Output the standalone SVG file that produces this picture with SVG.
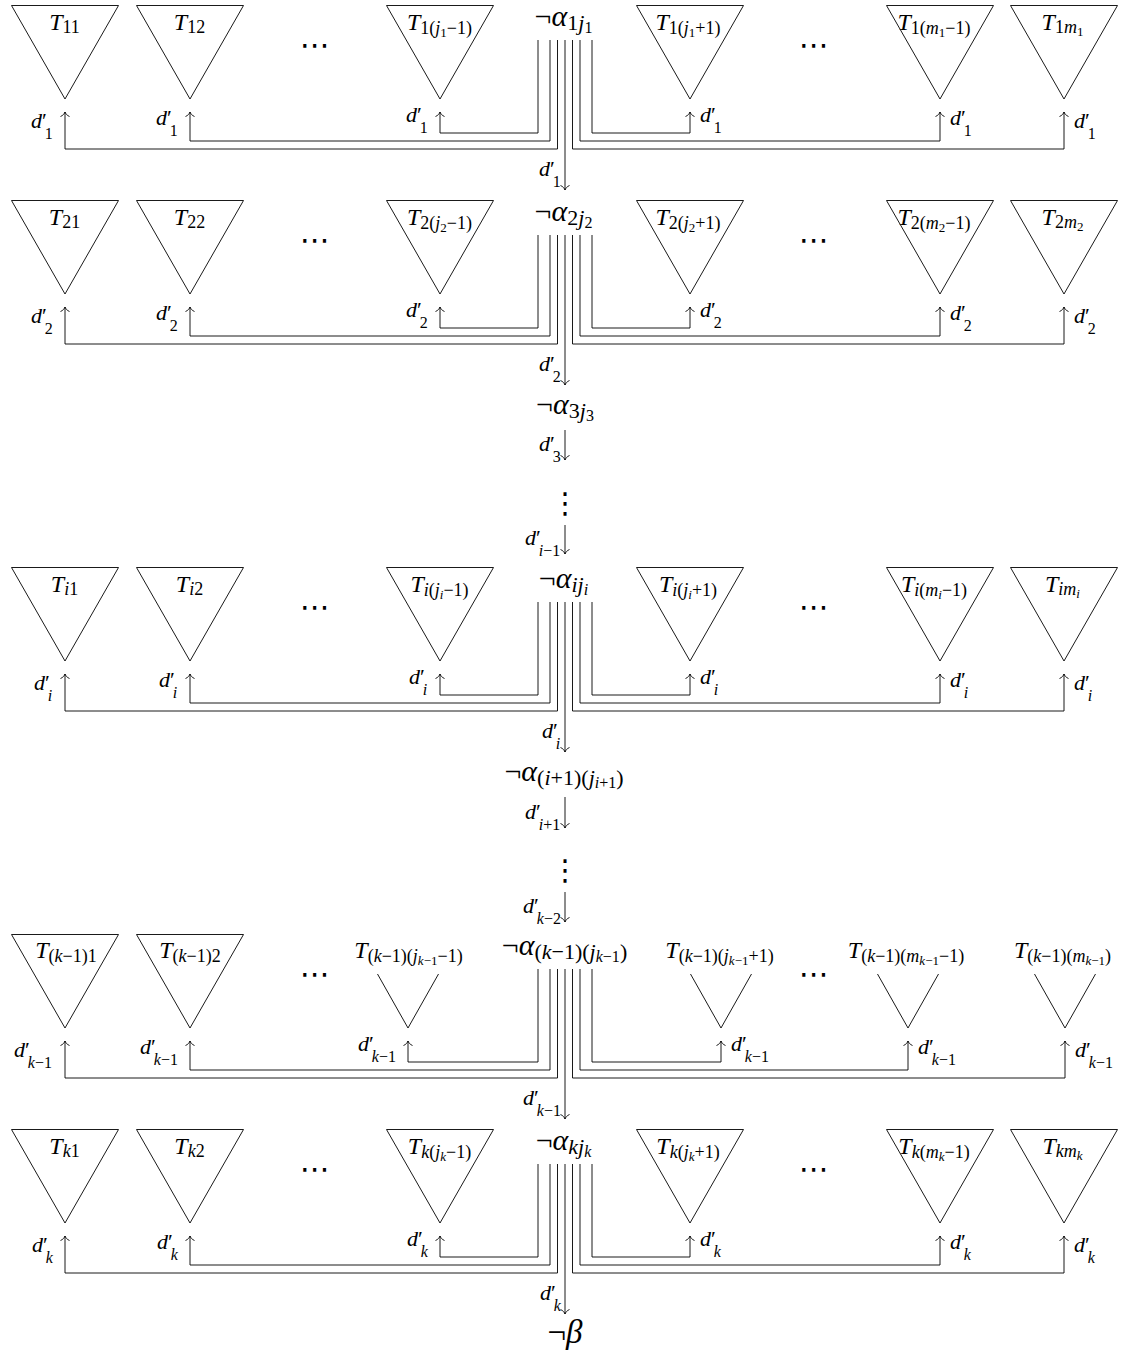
<svg xmlns="http://www.w3.org/2000/svg" width="1126" height="1353" viewBox="0 0 1126 1353">
<defs>
<style>
text{font-family:"Liberation Serif","DejaVu Serif",serif;fill:#000}
.T{font-size:24px}
.s{font-size:18px}
.ss{font-size:13px}
.a{font-size:30px}
.as{font-size:22px}
.ass{font-size:16px}
.b{font-size:33px}
.d{font-size:22px}
.ds{font-size:16px}
.p{letter-spacing:-2px}
.i{font-style:italic}
.dots{font-family:"DejaVu Sans",sans-serif;font-size:30px}
.vd{font-family:"DejaVu Sans",sans-serif;font-size:29px}
.tri{fill:none;stroke:#000;stroke-width:0.9}
.cn{fill:none;stroke:#000;stroke-width:0.9;marker-end:url(#ah)}
</style>
<marker id="ah" markerUnits="userSpaceOnUse" viewBox="-6 -6 12 12" markerWidth="12" markerHeight="12" refX="0" refY="0" orient="auto"><path d="M-4.5,-4.5 C-3.5,-2 -1.5,-0.5 0,0 C-1.5,0.5 -3.5,2 -4.5,4.5" fill="none" stroke="#000" stroke-width="0.9"/></marker>
<polygon id="tri" points="-53.5,0 53.5,0 0,93.5"/>
<polyline id="vee" points="-30.5,-54 0,0 30.5,-54"/>
</defs>
<rect width="1126" height="1353" fill="#fff"/>

<!-- Row 1 -->
<g id="row1">
<g id="T11"><use href="#tri" class="tri" x="65" y="5.5"/><text class="T" x="64.5" y="30" text-anchor="middle"><tspan class="i">T</tspan><tspan class="s" dy="3">11</tspan></text></g>
<g id="T12"><use href="#tri" class="tri" x="190" y="5.5"/><text class="T" x="189.5" y="30" text-anchor="middle"><tspan class="i">T</tspan><tspan class="s" dy="3">12</tspan></text></g>
<g id="T1jm"><use href="#tri" class="tri" x="440" y="5.5"/><text class="T" x="439.5" y="30" text-anchor="middle"><tspan class="i">T</tspan><tspan class="s" dy="4">1(<tspan class="i">j</tspan></tspan><tspan class="ss" dy="3">1</tspan><tspan class="s" dy="-3">−1)</tspan></text></g>
<g id="a1"><text class="a" x="563.5" y="26" text-anchor="middle">¬<tspan class="i">α</tspan><tspan class="as" dy="4">1<tspan class="i">j</tspan></tspan><tspan class="ass" dy="3">1</tspan></text></g>
<g id="T1jp"><use href="#tri" class="tri" x="690" y="5.5"/><text class="T" x="688" y="30" text-anchor="middle"><tspan class="i">T</tspan><tspan class="s" dy="4">1(<tspan class="i">j</tspan></tspan><tspan class="ss" dy="3">1</tspan><tspan class="s" dy="-3">+1)</tspan></text></g>
<g id="T1mm"><use href="#tri" class="tri" x="940" y="5.5"/><text class="T" x="934" y="30" text-anchor="middle"><tspan class="i">T</tspan><tspan class="s" dy="4">1(<tspan class="i">m</tspan></tspan><tspan class="ss" dy="3">1</tspan><tspan class="s" dy="-3">−1)</tspan></text></g>
<g id="T1m"><use href="#tri" class="tri" x="1064" y="5.5"/><text class="T" x="1062.5" y="30" text-anchor="middle"><tspan class="i">T</tspan><tspan class="s" dy="3">1<tspan class="i">m</tspan></tspan><tspan class="ss" dy="3">1</tspan></text></g>
<g id="dots1"><text class="dots" x="315" y="55" text-anchor="middle">⋯</text><text class="dots" x="814" y="55" text-anchor="middle">⋯</text></g>
</g>

<!-- Row 2 -->
<g id="row2">
<g id="T21"><use href="#tri" class="tri" x="65" y="200.5"/><text class="T" x="64.5" y="225" text-anchor="middle"><tspan class="i">T</tspan><tspan class="s" dy="3">21</tspan></text></g>
<g id="T22"><use href="#tri" class="tri" x="190" y="200.5"/><text class="T" x="189.5" y="225" text-anchor="middle"><tspan class="i">T</tspan><tspan class="s" dy="3">22</tspan></text></g>
<g id="T2jm"><use href="#tri" class="tri" x="440" y="200.5"/><text class="T" x="439.5" y="225" text-anchor="middle"><tspan class="i">T</tspan><tspan class="s" dy="4">2(<tspan class="i">j</tspan></tspan><tspan class="ss" dy="3">2</tspan><tspan class="s" dy="-3">−1)</tspan></text></g>
<g id="a2"><text class="a" x="563.5" y="221" text-anchor="middle">¬<tspan class="i">α</tspan><tspan class="as" dy="4">2<tspan class="i">j</tspan></tspan><tspan class="ass" dy="3">2</tspan></text></g>
<g id="T2jp"><use href="#tri" class="tri" x="690" y="200.5"/><text class="T" x="688" y="225" text-anchor="middle"><tspan class="i">T</tspan><tspan class="s" dy="4">2(<tspan class="i">j</tspan></tspan><tspan class="ss" dy="3">2</tspan><tspan class="s" dy="-3">+1)</tspan></text></g>
<g id="T2mm"><use href="#tri" class="tri" x="940" y="200.5"/><text class="T" x="934" y="225" text-anchor="middle"><tspan class="i">T</tspan><tspan class="s" dy="4">2(<tspan class="i">m</tspan></tspan><tspan class="ss" dy="3">2</tspan><tspan class="s" dy="-3">−1)</tspan></text></g>
<g id="T2m"><use href="#tri" class="tri" x="1064" y="200.5"/><text class="T" x="1062.5" y="225" text-anchor="middle"><tspan class="i">T</tspan><tspan class="s" dy="3">2<tspan class="i">m</tspan></tspan><tspan class="ss" dy="3">2</tspan></text></g>
<g id="dots2"><text class="dots" x="315" y="250" text-anchor="middle">⋯</text><text class="dots" x="814" y="250" text-anchor="middle">⋯</text></g>
</g>

<!-- Chain 2 -> i -->
<g id="a3"><text class="a" x="565" y="414" text-anchor="middle">¬<tspan class="i">α</tspan><tspan class="as" dy="4">3<tspan class="i">j</tspan></tspan><tspan class="ass" dy="3">3</tspan></text></g>
<g id="vdots1"><text class="vd" x="565" y="513" text-anchor="middle">⋮</text></g>

<!-- Row i -->
<g id="rowi">
<g id="Ti1"><use href="#tri" class="tri" x="65" y="567.5"/><text class="T" x="64.5" y="592" text-anchor="middle"><tspan class="i">T</tspan><tspan class="s" dy="3"><tspan class="i">i</tspan>1</tspan></text></g>
<g id="Ti2"><use href="#tri" class="tri" x="190" y="567.5"/><text class="T" x="189.5" y="592" text-anchor="middle"><tspan class="i">T</tspan><tspan class="s" dy="3"><tspan class="i">i</tspan>2</tspan></text></g>
<g id="Tijm"><use href="#tri" class="tri" x="440" y="567.5"/><text class="T" x="439.5" y="592" text-anchor="middle"><tspan class="i">T</tspan><tspan class="s" dy="4"><tspan class="i">i</tspan>(<tspan class="i">j</tspan></tspan><tspan class="ss i" dy="3">i</tspan><tspan class="s" dy="-3">−1)</tspan></text></g>
<g id="ai"><text class="a" x="563.5" y="588" text-anchor="middle">¬<tspan class="i">α</tspan><tspan class="as i" dy="4">ij</tspan><tspan class="ass i" dy="3">i</tspan></text></g>
<g id="Tijp"><use href="#tri" class="tri" x="690" y="567.5"/><text class="T" x="688" y="592" text-anchor="middle"><tspan class="i">T</tspan><tspan class="s" dy="4"><tspan class="i">i</tspan>(<tspan class="i">j</tspan></tspan><tspan class="ss i" dy="3">i</tspan><tspan class="s" dy="-3">+1)</tspan></text></g>
<g id="Timm"><use href="#tri" class="tri" x="940" y="567.5"/><text class="T" x="934" y="592" text-anchor="middle"><tspan class="i">T</tspan><tspan class="s" dy="4"><tspan class="i">i</tspan>(<tspan class="i">m</tspan></tspan><tspan class="ss i" dy="3">i</tspan><tspan class="s" dy="-3">−1)</tspan></text></g>
<g id="Tim"><use href="#tri" class="tri" x="1064" y="567.5"/><text class="T" x="1062.5" y="592" text-anchor="middle"><tspan class="i">T</tspan><tspan class="s i" dy="3">im</tspan><tspan class="ss i" dy="3">i</tspan></text></g>
<g id="dotsi"><text class="dots" x="315" y="617" text-anchor="middle">⋯</text><text class="dots" x="814" y="617" text-anchor="middle">⋯</text></g>
</g>

<!-- Chain i -> k-1 -->
<g id="ai1"><text class="a" x="564" y="781" text-anchor="middle">¬<tspan class="i">α</tspan><tspan class="as" dy="4">(<tspan class="i">i</tspan>+1)(<tspan class="i">j</tspan></tspan><tspan class="ass" dy="3"><tspan class="i">i</tspan>+1</tspan><tspan class="as" dy="-3">)</tspan></text></g>
<g id="vdots2"><text class="vd" x="565" y="880" text-anchor="middle">⋮</text></g>

<!-- Row k-1 -->
<g id="rowk1">
<g id="Tk11"><use href="#tri" class="tri" x="65" y="934.5"/><text class="T" x="66" y="958" text-anchor="middle"><tspan class="i">T</tspan><tspan class="s" dy="4">(<tspan class="i">k</tspan>−1)1</tspan></text></g>
<g id="Tk12"><use href="#tri" class="tri" x="190" y="934.5"/><text class="T" x="190" y="958" text-anchor="middle"><tspan class="i">T</tspan><tspan class="s" dy="4">(<tspan class="i">k</tspan>−1)2</tspan></text></g>
<g id="Tk1jm"><use href="#vee" class="tri" x="408" y="1028"/><text class="T" x="408.5" y="958" text-anchor="middle"><tspan class="i">T</tspan><tspan class="s" dy="4">(<tspan class="i">k</tspan>−1)(<tspan class="i">j</tspan></tspan><tspan class="ss" dy="3"><tspan class="i">k</tspan>−1</tspan><tspan class="s" dy="-3">−1)</tspan></text></g>
<g id="ak1"><text class="a" x="564.5" y="955" text-anchor="middle">¬<tspan class="i">α</tspan><tspan class="as" dy="4">(<tspan class="i">k</tspan>−1)(<tspan class="i">j</tspan></tspan><tspan class="ass" dy="3"><tspan class="i">k</tspan>−1</tspan><tspan class="as" dy="-3">)</tspan></text></g>
<g id="Tk1jp"><use href="#vee" class="tri" x="721" y="1028"/><text class="T" x="719.5" y="958" text-anchor="middle"><tspan class="i">T</tspan><tspan class="s" dy="4">(<tspan class="i">k</tspan>−1)(<tspan class="i">j</tspan></tspan><tspan class="ss" dy="3"><tspan class="i">k</tspan>−1</tspan><tspan class="s" dy="-3">+1)</tspan></text></g>
<g id="Tk1mm"><use href="#vee" class="tri" x="908" y="1028"/><text class="T" x="906" y="958" text-anchor="middle"><tspan class="i">T</tspan><tspan class="s" dy="4">(<tspan class="i">k</tspan>−1)(<tspan class="i">m</tspan></tspan><tspan class="ss" dy="3"><tspan class="i">k</tspan>−1</tspan><tspan class="s" dy="-3">−1)</tspan></text></g>
<g id="Tk1m"><use href="#vee" class="tri" x="1065" y="1028"/><text class="T" x="1062.5" y="958" text-anchor="middle"><tspan class="i">T</tspan><tspan class="s" dy="4">(<tspan class="i">k</tspan>−1)(<tspan class="i">m</tspan></tspan><tspan class="ss" dy="3"><tspan class="i">k</tspan>−1</tspan><tspan class="s" dy="-3">)</tspan></text></g>
<g id="dotsk1"><text class="dots" x="315" y="984" text-anchor="middle">⋯</text><text class="dots" x="814" y="984" text-anchor="middle">⋯</text></g>
</g>

<!-- Row k -->
<g id="rowk">
<g id="Tk1"><use href="#tri" class="tri" x="65" y="1129.5"/><text class="T" x="64.5" y="1154" text-anchor="middle"><tspan class="i">T</tspan><tspan class="s" dy="3"><tspan class="i">k</tspan>1</tspan></text></g>
<g id="Tk2"><use href="#tri" class="tri" x="190" y="1129.5"/><text class="T" x="189.5" y="1154" text-anchor="middle"><tspan class="i">T</tspan><tspan class="s" dy="3"><tspan class="i">k</tspan>2</tspan></text></g>
<g id="Tkjm"><use href="#tri" class="tri" x="440" y="1129.5"/><text class="T" x="439.5" y="1154" text-anchor="middle"><tspan class="i">T</tspan><tspan class="s" dy="4"><tspan class="i">k</tspan>(<tspan class="i">j</tspan></tspan><tspan class="ss i" dy="3">k</tspan><tspan class="s" dy="-3">−1)</tspan></text></g>
<g id="ak"><text class="a" x="563.5" y="1150" text-anchor="middle">¬<tspan class="i">α</tspan><tspan class="as i" dy="4">kj</tspan><tspan class="ass i" dy="3">k</tspan></text></g>
<g id="Tkjp"><use href="#tri" class="tri" x="690" y="1129.5"/><text class="T" x="688" y="1154" text-anchor="middle"><tspan class="i">T</tspan><tspan class="s" dy="4"><tspan class="i">k</tspan>(<tspan class="i">j</tspan></tspan><tspan class="ss i" dy="3">k</tspan><tspan class="s" dy="-3">+1)</tspan></text></g>
<g id="Tkmm"><use href="#tri" class="tri" x="940" y="1129.5"/><text class="T" x="934" y="1154" text-anchor="middle"><tspan class="i">T</tspan><tspan class="s" dy="4"><tspan class="i">k</tspan>(<tspan class="i">m</tspan></tspan><tspan class="ss i" dy="3">k</tspan><tspan class="s" dy="-3">−1)</tspan></text></g>
<g id="Tkm"><use href="#tri" class="tri" x="1064" y="1129.5"/><text class="T" x="1062.5" y="1154" text-anchor="middle"><tspan class="i">T</tspan><tspan class="s i" dy="3">km</tspan><tspan class="ss i" dy="3">k</tspan></text></g>
<g id="dotsk"><text class="dots" x="315" y="1179" text-anchor="middle">⋯</text><text class="dots" x="814" y="1179" text-anchor="middle">⋯</text></g>
</g>

<g id="beta"><text class="b" x="565" y="1343" text-anchor="middle">¬<tspan class="i">β</tspan></text></g>

<!-- Connectors -->
<g id="connectors">
<path class="cn" d="M538,40V133H440V112"/>
<path class="cn" d="M550,40V141H190V112"/>
<path class="cn" d="M557.5,40V149H65V112"/>
<path class="cn" d="M592,40V133H690V112"/>
<path class="cn" d="M580,40V141H940V112"/>
<path class="cn" d="M572.5,40V149H1064V112"/>
<path class="cn" d="M565,40V190"/>

<path class="cn" d="M538,235V328H440V307"/>
<path class="cn" d="M550,235V336H190V307"/>
<path class="cn" d="M557.5,235V344H65V307"/>
<path class="cn" d="M592,235V328H690V307"/>
<path class="cn" d="M580,235V336H940V307"/>
<path class="cn" d="M572.5,235V344H1064V307"/>
<path class="cn" d="M565,235V385"/>

<path class="cn" d="M565,430V460"/>
<path class="cn" d="M565,525V554"/>

<path class="cn" d="M538,602V695H440V674"/>
<path class="cn" d="M550,602V703H190V674"/>
<path class="cn" d="M557.5,602V711H65V674"/>
<path class="cn" d="M592,602V695H690V674"/>
<path class="cn" d="M580,602V703H940V674"/>
<path class="cn" d="M572.5,602V711H1064V674"/>
<path class="cn" d="M565,602V752"/>

<path class="cn" d="M565,797V828"/>
<path class="cn" d="M565,892V922"/>

<path class="cn" d="M538,969V1062H408V1041"/>
<path class="cn" d="M550,969V1070H190V1041"/>
<path class="cn" d="M557.5,969V1078H65V1041"/>
<path class="cn" d="M592,969V1062H721V1041"/>
<path class="cn" d="M580,969V1070H908V1041"/>
<path class="cn" d="M572.5,969V1078H1065V1041"/>
<path class="cn" d="M565,969V1119"/>

<path class="cn" d="M538,1164V1257H440V1236"/>
<path class="cn" d="M550,1164V1265H190V1236"/>
<path class="cn" d="M557.5,1164V1273H65V1236"/>
<path class="cn" d="M592,1164V1257H690V1236"/>
<path class="cn" d="M580,1164V1265H940V1236"/>
<path class="cn" d="M572.5,1164V1273H1064V1236"/>
<path class="cn" d="M565,1164V1314"/>

<g id="edge-labels">
<!-- row 1 -->
<text class="d" x="31" y="128"><tspan class="i">d</tspan><tspan class="p">′</tspan><tspan class="ds" dy="11">1</tspan></text>
<text class="d" x="156" y="125"><tspan class="i">d</tspan><tspan class="p">′</tspan><tspan class="ds" dy="11">1</tspan></text>
<text class="d" x="406" y="122"><tspan class="i">d</tspan><tspan class="p">′</tspan><tspan class="ds" dy="11">1</tspan></text>
<text class="d" x="700" y="122"><tspan class="i">d</tspan><tspan class="p">′</tspan><tspan class="ds" dy="11">1</tspan></text>
<text class="d" x="950" y="125"><tspan class="i">d</tspan><tspan class="p">′</tspan><tspan class="ds" dy="11">1</tspan></text>
<text class="d" x="1074" y="128"><tspan class="i">d</tspan><tspan class="p">′</tspan><tspan class="ds" dy="11">1</tspan></text>
<text class="d" x="539" y="176"><tspan class="i">d</tspan><tspan class="p">′</tspan><tspan class="ds" dy="11">1</tspan></text>
<!-- row 2 -->
<text class="d" x="31" y="323"><tspan class="i">d</tspan><tspan class="p">′</tspan><tspan class="ds" dy="11">2</tspan></text>
<text class="d" x="156" y="320"><tspan class="i">d</tspan><tspan class="p">′</tspan><tspan class="ds" dy="11">2</tspan></text>
<text class="d" x="406" y="317"><tspan class="i">d</tspan><tspan class="p">′</tspan><tspan class="ds" dy="11">2</tspan></text>
<text class="d" x="700" y="317"><tspan class="i">d</tspan><tspan class="p">′</tspan><tspan class="ds" dy="11">2</tspan></text>
<text class="d" x="950" y="320"><tspan class="i">d</tspan><tspan class="p">′</tspan><tspan class="ds" dy="11">2</tspan></text>
<text class="d" x="1074" y="323"><tspan class="i">d</tspan><tspan class="p">′</tspan><tspan class="ds" dy="11">2</tspan></text>
<text class="d" x="539" y="371"><tspan class="i">d</tspan><tspan class="p">′</tspan><tspan class="ds" dy="11">2</tspan></text>
<!-- chain -->
<text class="d" x="539" y="451"><tspan class="i">d</tspan><tspan class="p">′</tspan><tspan class="ds" dy="11">3</tspan></text>
<text class="d" x="525" y="545"><tspan class="i">d</tspan><tspan class="p">′</tspan><tspan class="ds" dy="11"><tspan class="i">i</tspan>−1</tspan></text>
<!-- row i -->
<text class="d" x="34" y="690"><tspan class="i">d</tspan><tspan class="p">′</tspan><tspan class="ds i" dy="11">i</tspan></text>
<text class="d" x="159" y="687"><tspan class="i">d</tspan><tspan class="p">′</tspan><tspan class="ds i" dy="11">i</tspan></text>
<text class="d" x="409" y="684"><tspan class="i">d</tspan><tspan class="p">′</tspan><tspan class="ds i" dy="11">i</tspan></text>
<text class="d" x="700" y="684"><tspan class="i">d</tspan><tspan class="p">′</tspan><tspan class="ds i" dy="11">i</tspan></text>
<text class="d" x="950" y="687"><tspan class="i">d</tspan><tspan class="p">′</tspan><tspan class="ds i" dy="11">i</tspan></text>
<text class="d" x="1074" y="690"><tspan class="i">d</tspan><tspan class="p">′</tspan><tspan class="ds i" dy="11">i</tspan></text>
<text class="d" x="542" y="738"><tspan class="i">d</tspan><tspan class="p">′</tspan><tspan class="ds i" dy="11">i</tspan></text>
<!-- chain -->
<text class="d" x="525" y="819"><tspan class="i">d</tspan><tspan class="p">′</tspan><tspan class="ds" dy="11"><tspan class="i">i</tspan>+1</tspan></text>
<text class="d" x="523" y="913"><tspan class="i">d</tspan><tspan class="p">′</tspan><tspan class="ds" dy="11"><tspan class="i">k</tspan>−2</tspan></text>
<!-- row k-1 -->
<text class="d" x="14" y="1057"><tspan class="i">d</tspan><tspan class="p">′</tspan><tspan class="ds" dy="11"><tspan class="i">k</tspan>−1</tspan></text>
<text class="d" x="140" y="1054"><tspan class="i">d</tspan><tspan class="p">′</tspan><tspan class="ds" dy="11"><tspan class="i">k</tspan>−1</tspan></text>
<text class="d" x="358" y="1051"><tspan class="i">d</tspan><tspan class="p">′</tspan><tspan class="ds" dy="11"><tspan class="i">k</tspan>−1</tspan></text>
<text class="d" x="731" y="1051"><tspan class="i">d</tspan><tspan class="p">′</tspan><tspan class="ds" dy="11"><tspan class="i">k</tspan>−1</tspan></text>
<text class="d" x="918" y="1054"><tspan class="i">d</tspan><tspan class="p">′</tspan><tspan class="ds" dy="11"><tspan class="i">k</tspan>−1</tspan></text>
<text class="d" x="1075" y="1057"><tspan class="i">d</tspan><tspan class="p">′</tspan><tspan class="ds" dy="11"><tspan class="i">k</tspan>−1</tspan></text>
<text class="d" x="523" y="1105"><tspan class="i">d</tspan><tspan class="p">′</tspan><tspan class="ds" dy="11"><tspan class="i">k</tspan>−1</tspan></text>
<!-- row k -->
<text class="d" x="32" y="1252"><tspan class="i">d</tspan><tspan class="p">′</tspan><tspan class="ds i" dy="11">k</tspan></text>
<text class="d" x="157" y="1249"><tspan class="i">d</tspan><tspan class="p">′</tspan><tspan class="ds i" dy="11">k</tspan></text>
<text class="d" x="407" y="1246"><tspan class="i">d</tspan><tspan class="p">′</tspan><tspan class="ds i" dy="11">k</tspan></text>
<text class="d" x="700" y="1246"><tspan class="i">d</tspan><tspan class="p">′</tspan><tspan class="ds i" dy="11">k</tspan></text>
<text class="d" x="950" y="1249"><tspan class="i">d</tspan><tspan class="p">′</tspan><tspan class="ds i" dy="11">k</tspan></text>
<text class="d" x="1074" y="1252"><tspan class="i">d</tspan><tspan class="p">′</tspan><tspan class="ds i" dy="11">k</tspan></text>
<text class="d" x="540" y="1300"><tspan class="i">d</tspan><tspan class="p">′</tspan><tspan class="ds i" dy="11">k</tspan></text>
</g>
</g>
</svg>
